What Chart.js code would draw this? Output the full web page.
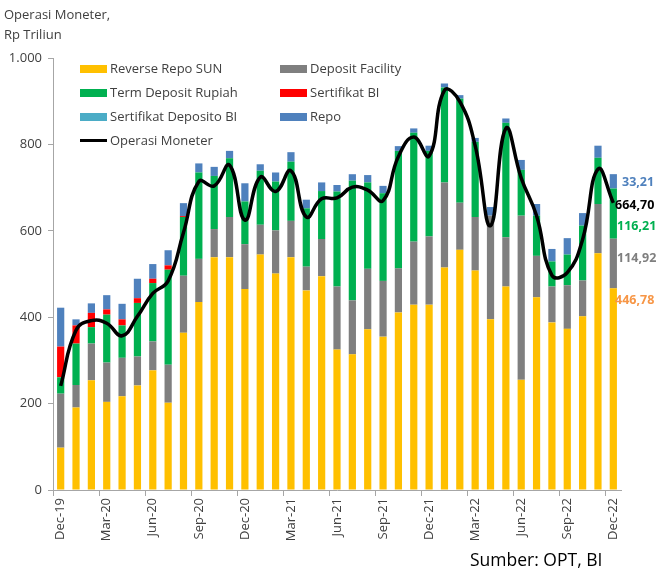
<!DOCTYPE html>
<html lang="id">
<head>
<meta charset="UTF-8" />
<title>Operasi Moneter</title>
<script src="https://cdn.jsdelivr.net/npm/chart.js"></script>
<style>
  body { margin: 0; background: #fff; font-family: "Open Sans", sans-serif; }
  .wrap { position: relative; width: 658px; height: 574px; }
  canvas { position: absolute; left: 0; top: 0; }
  .title { position: absolute; left: 4px; top: 4px; font-size: 13px; line-height: 20px; color: #404040; }
  .legend { position: absolute; font-size: 13px; color: #404040; }
  .legend div { position: absolute; white-space: nowrap; height: 20px; line-height: 20px; }
  .legend span { display: inline-block; width: 27px; height: 8px; margin-right: 3px; vertical-align: middle; position: relative; top: -1px; }
  .legend span.ln { height: 3px; }
  .endlbl { position: absolute; font-size: 12.5px; font-weight: bold; white-space: nowrap; }
  .source { position: absolute; left: 470px; top: 547px; font-size: 17.5px; color: #000; }
</style>
</head>
<body>
<div class="wrap">
  <canvas id="chartOM" width="658" height="574"></canvas>
  <div class="title">Operasi Moneter,<br>Rp Triliun</div>
  <div class="legend">
    <div style="left:80px;top:58px"><span style="background:#FFC000"></span>Reverse Repo SUN</div>
    <div style="left:280px;top:58px"><span style="background:#7F7F7F"></span>Deposit Facility</div>
    <div style="left:80px;top:82px"><span style="background:#00B050"></span>Term Deposit Rupiah</div>
    <div style="left:280px;top:82px"><span style="background:#FF0000"></span>Sertifikat BI</div>
    <div style="left:80px;top:106px"><span style="background:#4BACC6"></span>Sertifikat Deposito BI</div>
    <div style="left:280px;top:106px"><span style="background:#4F81BD"></span>Repo</div>
    <div style="left:80px;top:130px"><span class="ln" style="background:#000"></span>Operasi Moneter</div>
  </div>
  <div class="endlbl" style="left:622px;top:173px;color:#4F81BD">33,21</div>
  <div class="endlbl" style="left:615px;top:196px;color:#000">664,70</div>
  <div class="endlbl" style="left:617px;top:217px;color:#00B050">116,21</div>
  <div class="endlbl" style="left:617px;top:249px;color:#7F7F7F">114,92</div>
  <div class="endlbl" style="left:615px;top:291px;color:#F79646">446,78</div>
  <div class="source">Sumber: OPT, BI</div>
</div>

<script>
  // Data (Rp Triliun), Dec-19 s.d. Dec-22
  var bulan = [
    "Dec-19", "Jan-20", "Feb-20", "Mar-20", "Apr-20", "May-20", "Jun-20", "Jul-20", "Aug-20", "Sep-20", "Oct-20", "Nov-20",
    "Dec-20", "Jan-21", "Feb-21", "Mar-21", "Apr-21", "May-21", "Jun-21", "Jul-21", "Aug-21", "Sep-21", "Oct-21", "Nov-21",
    "Dec-21", "Jan-22", "Feb-22", "Mar-22", "Apr-22", "May-22", "Jun-22", "Jul-22", "Aug-22", "Sep-22", "Oct-22", "Nov-22",
    "Dec-22",
  ];

  var reverseRepoSUN = [
    98, 191, 254, 204, 217, 242, 277, 202, 364, 435, 539, 539,
    465, 545, 501, 539, 462, 495, 325, 314, 372, 355, 411, 429,
    429, 515, 556, 508, 395, 471, 255, 446, 388, 373, 402, 548,
    466.78,
  ];
  var depositFacility = [
    125, 52, 85, 91, 89, 67, 67, 88, 132, 100, 65, 93,
    104, 69, 100, 84, 55, 86, 146, 125, 140, 129, 102, 146,
    158, 197, 109, 124, 240, 114, 380, 96, 83, 101, 83, 114,
    114.92,
  ];
  var termDepositRupiah = [
    38, 96, 38, 111, 75, 124, 135, 220, 136, 200, 123, 136,
    99, 125, 113, 137, 135, 111, 220, 277, 200, 203, 272, 252,
    198, 220, 241, 174, 0, 265, 106, 93, 58, 71, 127, 107,
    116.21,
  ];
  var sertifikatBI = [
    71, 42, 33, 12, 14, 11, 10, 10, 2, 0, 0, 0,
    0, 0, 0, 0, 0, 0, 0, 0, 0, 0, 0, 0,
    0, 0, 0, 0, 0, 0, 0, 0, 0, 0, 0, 0,
    0,
  ];
  var sertifikatDepositoBI = [
    0, 0, 0, 0, 0, 0, 0, 0, 0, 0, 0, 0,
    0, 0, 0, 0, 0, 0, 0, 0, 0, 0, 0, 0,
    0, 0, 0, 0, 0, 0, 0, 0, 0, 0, 0, 0,
    0,
  ];
  var repo = [
    90, 14, 22, 33, 36, 45, 34, 35, 30, 21, 21, 17,
    42, 15, 21, 22, 20, 20, 15, 15, 17, 17, 11, 10,
    12, 9, 8, 9, 20, 10, 23, 27, 29, 38, 29, 28,
    33.21,
  ];
  var operasiMoneter = [
    241, 370, 392, 386, 357, 402, 455, 484, 596, 714, 704, 752,
    625, 724, 691, 739, 632, 674, 676, 701, 694, 670, 772, 817,
    773, 925, 899, 797, 612, 837, 722, 635, 497, 503, 580, 743,
    664.70,
  ];

  var yTicks = { 0: "0", 200: "200", 400: "400", 600: "600", 800: "800", 1000: "1.000" };

  Chart.defaults.font.family = "'Open Sans', sans-serif";
  Chart.defaults.color = "#404040";

  function bar(label, data, color) {
    return {
      type: "bar",
      label: label,
      data: data,
      backgroundColor: color,
      stack: "om",
      order: 1,
      barPercentage: 0.47,
      categoryPercentage: 1,
    };
  }

  var ctx = document.getElementById("chartOM").getContext("2d");
  var grafik = new Chart(ctx, {
    data: {
      labels: bulan,
      datasets: [
        bar("Reverse Repo SUN", reverseRepoSUN, "#FFC000"),
        bar("Deposit Facility", depositFacility, "#7F7F7F"),
        bar("Term Deposit Rupiah", termDepositRupiah, "#00B050"),
        bar("Sertifikat BI", sertifikatBI, "#FF0000"),
        bar("Sertifikat Deposito BI", sertifikatDepositoBI, "#4BACC6"),
        bar("Repo", repo, "#4F81BD"),
        {
          type: "line",
          label: "Operasi Moneter",
          data: operasiMoneter,
          borderColor: "#000",
          backgroundColor: "#000",
          borderWidth: 3.5,
          pointRadius: 0,
          tension: 0.45,
          fill: false,
          stack: "garis",
          order: 0,
        },
      ],
    },
    options: {
      responsive: false,
      animation: false,
      layout: { padding: { top: 58, right: 37, left: 0, bottom: 0 } },
      plugins: { legend: { display: false }, tooltip: { enabled: false } },
      scales: {
        x: {
          stacked: true,
          grid: {
            drawOnChartArea: false,
            offset: true,
            tickLength: 6,
            color: function (c) { return c.index % 3 === 0 ? "#A6A6A6" : "rgba(0,0,0,0)"; },
          },
          border: { color: "#A6A6A6" },
          ticks: {
            autoSkip: false,
            maxRotation: 90,
            minRotation: 90,
            padding: 2,
            font: { size: 13 },
            color: "#404040",
            callback: function (v, i) { return i % 3 === 0 ? bulan[i] : ""; },
          },
          afterFit: function (s) { s.height = 84; },
        },
        y: {
          stacked: true,
          min: 0,
          max: 1000,
          ticks: {
            stepSize: 200,
            padding: 6,
            font: { size: 13 },
            color: "#404040",
            callback: function (v) { return yTicks[v]; },
          },
          grid: { drawOnChartArea: false, tickLength: 5, color: "#A6A6A6" },
          border: { color: "#A6A6A6" },
          afterFit: function (s) { s.width = 53; },
        },
      },
    },
  });
</script>
</body>
</html>
